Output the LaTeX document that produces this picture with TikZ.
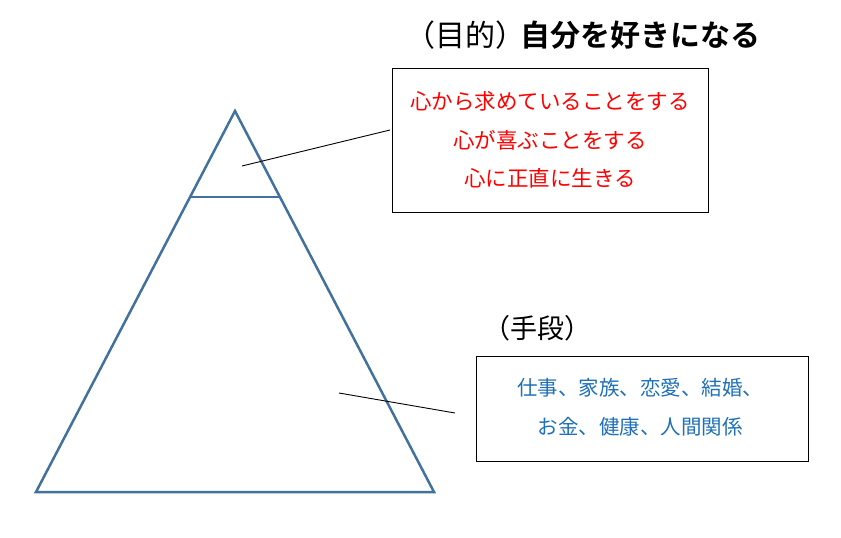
\documentclass[tikz,border=0pt]{standalone}
\usepackage{fontspec}
\newfontfamily\cjk{Noto Sans CJK JP}
\newfontfamily\cjkb{Noto Sans CJK JP Bold}
\definecolor{triblue}{HTML}{41719C}
\definecolor{txtblue}{HTML}{1F70B8}
\begin{document}
\begin{tikzpicture}[x=1pt,y=-1pt,
  box/.style={draw=black,line width=1pt,inner sep=0pt},
  tri/.style={draw=triblue,line width=2.5pt,line join=miter},
  conn/.style={draw=black,line width=0.9pt},
  redtxt/.style={text=red,font=\cjk\fontsize{21.5}{24}\selectfont,align=center},
  bluetxt/.style={text=txtblue,font=\cjk\fontsize{20.5}{24}\selectfont,align=center}]
\useasboundingbox (0,0) rectangle (841,538);
% triangle
\coordinate (apex) at (235,111);
\coordinate (bl) at (36,492);
\coordinate (br) at (434,492);
\coordinate (ml) at (190,197);
\coordinate (mr) at (280,197);
\draw[tri] (apex) -- (br) -- (bl) -- cycle;
\draw[tri] (ml) -- (mr);
% boxes
\node[box,minimum width=316pt,minimum height=144pt,anchor=north west] (b1) at (392,68) {};
\node[box,minimum width=332pt,minimum height=105pt,anchor=north west] (b2) at (476,356) {};
\node[redtxt] (r1) at (550,101) {心から求めていることをする};
\node[redtxt] (r2) at (550,140) {心が喜ぶことをする};
\node[redtxt] (r3) at (550,178) {心に正直に生きる};
\node[bluetxt] (u1) at (640,388) {仕事、家族、恋愛、結婚、};
\node[bluetxt] (u2) at (640,427) {お金、健康、人間関係};
% titles
\node[anchor=west,inner sep=0pt] (t1) at (405,35) {\cjk\fontsize{30}{33}\selectfont （目的）\hspace{-5pt}\cjkb 自分を好きになる};
\node[anchor=west,inner sep=0pt] (t2) at (483,328) {\cjk\fontsize{27}{30}\selectfont （手段）};
% connectors
\coordinate (c1) at (242,166);
\coordinate (c1e) at (390,130);
\coordinate (c2) at (339,393);
\coordinate (c2e) at (455,413);
\draw[conn] (c1) -- (c1e);
\draw[conn] (c2) -- (c2e);
\end{tikzpicture}
\end{document}
